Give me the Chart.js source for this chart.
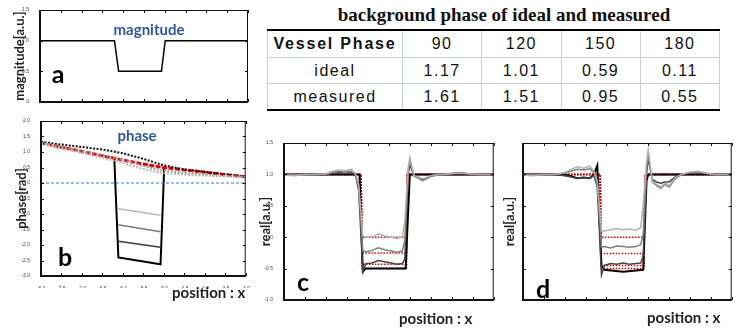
<!DOCTYPE html>
<html>
<head>
<meta charset="utf-8">
<script src="https://cdn.jsdelivr.net/npm/chart.js@4.4.1/dist/chart.umd.min.js"></script>
<style>
  body { margin: 0; width: 742px; height: 328px; background: #fff; position: relative; overflow: hidden; }
  canvas { position: absolute; }
  .lbl { position: absolute; font-family: Lato, "Open Sans", sans-serif; font-weight: bold; white-space: nowrap; line-height: 1; }
  .big { font-size: 25px; color: #000; transform: translate(-50%, -50%); }
  .inner { font-size: 15px; color: #2f5597; transform: translate(-50%, -50%); }
  .pos { font-size: 15px; color: #222; transform: translateY(-50%); }
  #title { position: absolute; left: 504px; top: 15px; transform: translate(-50%, -50%); font-family: "Liberation Serif", serif; font-weight: bold; font-size: 19px; color: #111; white-space: nowrap; }
  #tbl { position: absolute; left: 267px; top: 29px; width: 453px; border-collapse: collapse; font-family: "Liberation Sans", Arial, sans-serif; font-size: 16px; letter-spacing: 1.5px; color: #111; table-layout: fixed; }
  #tbl td { text-align: center; padding: 0; border-left: 1px solid #c9ced8; border-right: 1px solid #c9ced8; }
  #tbl tr.head td { height: 26px; border-top: 2px solid #000; }
  #tbl tr.row td { height: 25px; border-top: 1px solid #c9ced8; }
  #tbl tr.last td { border-bottom: 2px solid #000; }
  #tbl td.first { width: 134px; }
  #tbl tr.head td.first { font-weight: bold; letter-spacing: 1.8px; }
</style>
</head>
<body>
<canvas id="chartA" width="252" height="108" style="left:0;top:0"></canvas>
<canvas id="chartB" width="252" height="175" style="left:0;top:113px"></canvas>
<canvas id="chartC" width="242" height="175" style="left:258px;top:135px"></canvas>
<canvas id="chartD" width="238" height="175" style="left:500px;top:135px"></canvas>

<div class="lbl inner" style="left:149px;top:29px">magnitude</div>
<div class="lbl inner" style="left:137px;top:135px">phase</div>
<div class="lbl big" style="left:58px;top:73px">a</div>
<div class="lbl big" style="left:65px;top:256px">b</div>
<div class="lbl big" style="left:303px;top:281px">c</div>
<div class="lbl big" style="left:543px;top:288px">d</div>
<div class="lbl pos" style="left:172px;top:292px">position : x</div>
<div class="lbl pos" style="left:399px;top:318px">position : x</div>
<div class="lbl pos" style="left:647px;top:317px">position : x</div>

<div id="title">background phase of ideal and measured</div>
<table id="tbl"></table>

<script>
// ---- data ----
const vesselPhases = ['90', '120', '150', '180'];
const idealVals = [1.17, 1.01, 0.59, 0.11];
const measuredVals = [1.61, 1.51, 0.95, 0.55];

const xTicks = [-8, -7.5, -7, -6.5, -6, -5.5, -5, -4.5, -4, -3.5, -3];

// a: magnitude
const magX = [-8, -6.21, -6.11, -5.08, -4.99, -3];
const magY = [1, 1, 0.5, 0.5, 1, 1];

// b: phase, background outside vessel
const bgX = [-8, -7.5, -7, -6.5, -6, -5.5, -5, -4.5, -4, -3.5, -3];
const bgIdeal = [1.29, 1.15, 1.02, 0.88, 0.74, 0.61, 0.5, 0.42, 0.35, 0.27, 0.2];
const bgBlack = [1.33, 1.24, 1.16, 1.08, 0.96, 0.78, 0.57, 0.44, 0.36, 0.28, 0.21];
const bgGray1 = [1.30, 1.17, 1.04, 0.90, 0.74, 0.55, 0.40, 0.32, 0.27, 0.23, 0.20];
const bgGray2 = [1.27, 1.12, 0.97, 0.81, 0.64, 0.45, 0.32, 0.27, 0.24, 0.21, 0.19];
// b: phase inside vessel (left end, right end)
const inX = [-6.11, -5.08];
const inLight = [-0.83, -1.04];
const inMid = [-1.35, -1.57];
const inDark = [-1.88, -2.07];
const wallX = [-6.21, -6.11, -5.08, -4.99];
const wallY = [0.79, -2.4, -2.62, 0.5];
const zeroX = [-8, -3];
const zeroY = [0, 0];

// c, d: real part
const reX = [-8, -7.75, -7.5, -7.25, -7, -6.85, -6.7, -6.55, -6.4, -6.3, -6.22, -6.12, -6.05, -5.9, -5.75, -5.6, -5.45, -5.3, -5.18, -5.12, -5.04, -5.0, -4.9, -4.8, -4.7, -4.6, -4.5, -4.35, -4.2, -4, -3.8, -3.6, -3.4, -3.2, -3];
const cLight = [0.99, 0.98, 1.0, 1.0, 1.01, 1.05, 1.07, 1.06, 1.08, 1.02, 0.85, 0.02, 0.0, 0.01, 0.05, 0.02, 0.0, -0.02, 0.01, 0.25, 1.1, 1.27, 0.98, 0.96, 0.93, 0.95, 0.98, 1.0, 1.0, 1.01, 1.02, 1.01, 1.0, 1.0, 1.0];
const cMid = [0.99, 1.0, 0.99, 1.0, 1.0, 1.03, 1.05, 1.04, 1.05, 1.01, 0.8, -0.22, -0.23, -0.21, -0.17, -0.2, -0.22, -0.24, -0.22, -0.05, 1.05, 1.22, 0.97, 0.94, 0.9, 0.93, 0.97, 0.99, 1.0, 1.02, 1.03, 1.01, 1.0, 1.0, 1.0];
const cDark = [1.0, 0.99, 1.0, 1.0, 1.0, 1.02, 1.03, 1.02, 1.03, 1.0, 0.75, -0.55, -0.42, -0.41, -0.37, -0.39, -0.41, -0.43, -0.42, -0.35, 1.0, 1.15, 0.98, 0.95, 0.92, 0.94, 0.97, 0.99, 1.0, 1.01, 1.02, 1.01, 1.0, 1.0, 1.0];
const cBlackX = [-8, -6.2, -6.12, -6.05, -5.1, -5.0, -3];
const cBlackY = [1, 1, -0.55, -0.5, -0.5, 1, 1];
const cIdealLevels = [0, -0.25, -0.43, -0.5];

const dLight = [0.99, 0.98, 1.0, 1.0, 1.03, 1.08, 1.12, 1.1, 1.13, 1.05, 0.9, 0.1, 0.1, 0.12, 0.14, 0.12, 0.13, 0.11, 0.15, 0.5, 1.2, 1.39, 0.9, 0.84, 0.8, 0.86, 0.82, 0.95, 1.0, 1.04, 1.05, 1.02, 1.0, 1.0, 1.0];
const dMid = [0.99, 1.0, 0.99, 1.0, 1.02, 1.05, 1.08, 1.07, 1.09, 1.03, 0.85, -0.16, -0.15, -0.17, -0.14, -0.15, -0.16, -0.15, -0.12, 0.05, 1.1, 1.32, 0.88, 0.82, 0.78, 0.84, 0.8, 0.93, 1.0, 1.03, 1.04, 1.02, 1.0, 1.0, 1.0];
const dDark = [1.0, 0.99, 1.0, 1.0, 0.98, 0.96, 0.94, 0.95, 0.94, 0.98, 0.8, -0.6, -0.45, -0.42, -0.43, -0.41, -0.43, -0.42, -0.41, -0.3, 1.0, 1.25, 0.92, 0.88, 0.86, 0.88, 0.88, 0.96, 1.0, 1.02, 1.03, 1.01, 1.0, 1.0, 1.0];
const dBlackX = [-8, -7, -6.85, -6.7, -6.55, -6.4, -6.3, -6.22, -6.12, -6.05, -5.6, -5.12, -5.04, -5.0, -3];
const dBlackY = [1, 1, 0.97, 0.94, 0.95, 0.94, 1.0, 1.14, -0.45, -0.52, -0.55, -0.52, 0.9, 1.0, 1];
const dIdealLevels = [0, -0.26, -0.45, -0.5];

// ---- helpers ----
const pts = (xs, ys) => xs.map((x, i) => ({ x: x, y: ys[i] }));

// ideal vessel profile for real part: 1 outside, level inside
const idealProfile = (level, left, right) => pts([-8, left, left + 0.02, right - 0.02, right, -3], [1, 1, level, level, 1, 1]);

const line = (data, color, width, dash) => ({
    data: data,
    borderColor: color,
    borderWidth: width,
    borderDash: dash || [],
    pointRadius: 0,
    fill: false,
    tension: 0
});

// frame around plot area with inward ticks (matlab look)
const boxTicks = {
    id: 'boxTicks',
    afterDatasetsDraw(chart) {
        const { ctx, chartArea: a, scales } = chart;
        const x = scales.x, y = scales.y;
        ctx.save();
        ctx.strokeStyle = '#111';
        ctx.lineWidth = 1;
        ctx.setLineDash([]);
        ctx.beginPath();
        x.ticks.forEach(t => {
            const px = Math.round(x.getPixelForValue(t.value)) + 0.5;
            ctx.moveTo(px, a.top); ctx.lineTo(px, a.top + 3);
            ctx.moveTo(px, a.bottom); ctx.lineTo(px, a.bottom - 3);
        });
        y.ticks.forEach(t => {
            const py = Math.round(y.getPixelForValue(t.value)) + 0.5;
            ctx.moveTo(a.left, py); ctx.lineTo(a.left + 3, py);
            ctx.moveTo(a.right, py); ctx.lineTo(a.right - 3, py);
        });
        ctx.stroke();
        ctx.strokeRect(a.left + 0.5, a.top + 0.5, a.width - 1, a.height - 1);
        ctx.lineWidth = 2;
        ctx.beginPath();
        ctx.moveTo(a.left, a.top);
        ctx.lineTo(a.left, a.bottom);
        ctx.lineTo(a.right, a.bottom);
        ctx.stroke();
        ctx.restore();
    }
};

function makeChart(id, datasets, cfg) {
    const ctx = document.getElementById(id).getContext('2d');
    return new Chart(ctx, {
        type: 'line',
        data: { datasets: datasets },
        options: {
            responsive: false,
            animation: false,
            layout: { padding: { top: cfg.padTop, right: 4, bottom: cfg.padBottom || 0, left: 0 } },
            plugins: { legend: { display: false }, tooltip: { enabled: false } },
            scales: {
                x: {
                    type: 'linear',
                    min: -8,
                    max: -3,
                    grid: { display: false },
                    border: { display: false },
                    afterBuildTicks: s => { s.ticks = xTicks.map(v => ({ value: v })); },
                    afterFit: s => { s.height = cfg.xHeight; },
                    ticks: {
                        display: cfg.xLabels,
                        autoSkip: false,
                        maxRotation: 0,
                        padding: 2,
                        color: '#444',
                        font: { family: 'Liberation Sans', size: 5 },
                        callback: v => v.toFixed(1)
                    }
                },
                y: {
                    type: 'linear',
                    min: cfg.yMin,
                    max: cfg.yMax,
                    grid: { display: false },
                    border: { display: false },
                    afterFit: s => { s.width = cfg.yWidth; },
                    ticks: {
                        display: cfg.yLabels,
                        stepSize: 0.5,
                        padding: 3,
                        color: '#444',
                        font: { family: 'Liberation Sans', size: 5 }
                    },
                    title: {
                        display: true,
                        text: cfg.yTitle,
                        color: '#222',
                        padding: { top: cfg.titlePad, bottom: 0 },
                        font: { family: 'Lato', weight: 'bold', size: 13 }
                    }
                }
            }
        },
        plugins: [boxTicks]
    });
}

document.addEventListener('DOMContentLoaded', () => {
    // table
    const tbl = document.getElementById('tbl');
    const rows = [
        ['Vessel Phase'].concat(vesselPhases),
        ['ideal'].concat(idealVals.map(v => v.toFixed(2))),
        ['measured'].concat(measuredVals.map(v => v.toFixed(2)))
    ];
    rows.forEach((r, i) => {
        const tr = document.createElement('tr');
        tr.className = i === 0 ? 'head' : (i === rows.length - 1 ? 'row last' : 'row');
        r.forEach((c, j) => {
            const td = document.createElement('td');
            if (j === 0) td.className = 'first';
            td.textContent = c;
            tr.appendChild(td);
        });
        tbl.appendChild(tr);
    });

    // a: magnitude
    makeChart('chartA', [line(pts(magX, magY), '#000', 1.5)], {
        padTop: 10, padBottom: 4, xHeight: 0, xLabels: false, yWidth: 40, yLabels: true,
        yMin: 0, yMax: 1.5, yTitle: 'magnitude[a.u.]', titlePad: 12
    });

    // b: phase
    makeChart('chartB', [
        line(pts(zeroX, zeroY), '#4472c4', 1, [3, 2]),
        line(pts(bgX, bgGray2), '#b5b5b5', 2, [2, 1.5]),
        line(pts(bgX, bgGray1), '#999', 2, [2, 1.5]),
        line(pts(bgX, bgBlack), '#111', 2, [2, 1.5]),
        line(pts(bgX, bgIdeal), '#e00000', 3, [5, 1.5]),
        line(pts(inX, inLight), '#b8b8b8', 1.5),
        line(pts(inX, inMid), '#7a7a7a', 1.5),
        line(pts(inX, inDark), '#3a3a3a', 1.5),
        line(pts(wallX, wallY), '#000', 2)
    ], {
        padTop: 8, xHeight: 12, xLabels: true, yWidth: 41, yLabels: true,
        yMin: -3, yMax: 2, yTitle: 'phase[rad]', titlePad: 14
    });

    // c: real part
    const cSets = cIdealLevels.map(l => line(idealProfile(l, -6.16, -5.06), '#e00000', 1.5, [1.5, 1.5]));
    makeChart('chartC', [
        line(pts(reX, cLight), '#b0b0b0', 1.5),
        line(pts(reX, cMid), '#7f7f7f', 1.5),
        line(pts(reX, cDark), '#444', 1.5),
        line(pts(cBlackX, cBlackY), '#000', 2)
    ].concat(cSets), {
        padTop: 8, xHeight: 10, xLabels: true, yWidth: 26, yLabels: true,
        yMin: -1, yMax: 1.5, yTitle: 'real[a.u.]', titlePad: 0
    });

    // d: real part
    const dSets = dIdealLevels.map(l => line(idealProfile(l, -6.15, -5.08), '#e00000', 1.5, [1.5, 1.5]));
    makeChart('chartD', [
        line(pts(reX, dLight), '#b0b0b0', 1.5),
        line(pts(reX, dMid), '#7f7f7f', 1.5),
        line(pts(reX, dDark), '#444', 1.5),
        line(pts(dBlackX, dBlackY), '#000', 2)
    ].concat(dSets), {
        padTop: 8, xHeight: 10, xLabels: true, yWidth: 23, yLabels: false,
        yMin: -1, yMax: 1.5, yTitle: 'real[a.u.]', titlePad: 2
    });
});
</script>
</body>
</html>
